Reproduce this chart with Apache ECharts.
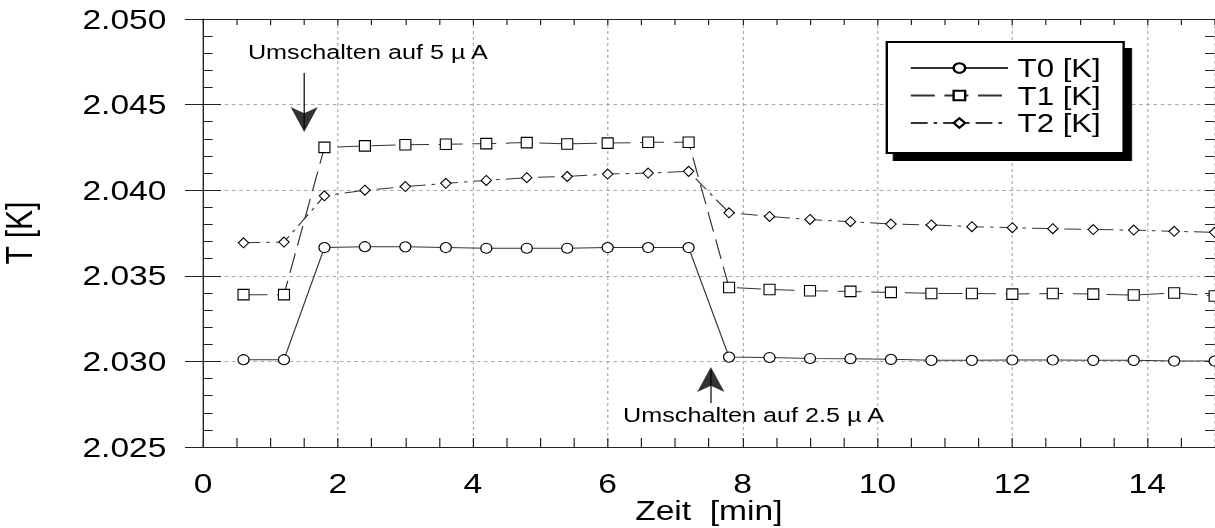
<!DOCTYPE html>
<html>
<head>
<meta charset="utf-8">
<script src="https://cdn.jsdelivr.net/npm/echarts@6/dist/echarts.min.js"></script>
<style>
  html, body { margin: 0; padding: 0; background: #fff; overflow: hidden; }
  #wrap { width: 1215px; height: 528px; overflow: hidden; }
  /* the plot is laid out on a narrower canvas and widened, giving the wide lettering of the original plotter */
  #chart { width: 1012.5px; height: 528px; transform: scaleX(1.2); transform-origin: 0 0; }
</style>
</head>
<body>
<div id="wrap"><div id="chart"></div></div>
<script>
// Zeit [min] of each reading
const zeit = [0.6, 1.2, 1.8, 2.4, 3.0, 3.6, 4.2, 4.8, 5.4, 6.0, 6.6, 7.2, 7.8,
              8.4, 9.0, 9.6, 10.2, 10.8, 11.4, 12.0, 12.6, 13.2, 13.8, 14.4, 15.0];

// Temperatures [K] of the three sensors
const t0 = [2.0301, 2.0301, 2.03665, 2.0367, 2.03669, 2.03665, 2.03661, 2.03661, 2.03661,
            2.03665, 2.03665, 2.03665, 2.03025, 2.03023, 2.03017, 2.03016, 2.03012, 2.03006,
            2.03006, 2.03008, 2.03008, 2.03006, 2.03006, 2.03002, 2.03002];
const t1 = [2.0339, 2.0339, 2.0425, 2.04259, 2.04266, 2.04268, 2.04272, 2.04278, 2.0427,
            2.04275, 2.0428, 2.0428, 2.03432, 2.0342, 2.03413, 2.03409, 2.03403, 2.03397,
            2.03397, 2.03393, 2.03397, 2.03393, 2.03388, 2.034, 2.03382];
const t2 = [2.03693, 2.03697, 2.03967, 2.0400, 2.04021, 2.0404, 2.04057, 2.04073, 2.0408,
            2.04094, 2.041, 2.0411, 2.03868, 2.03847, 2.03829, 2.03816, 2.03802, 2.03797,
            2.03787, 2.03781, 2.03775, 2.0377, 2.03767, 2.0376, 2.03754];

const seriesNames = ['T0 [K]', 'T1 [K]', 'T2 [K]'];
const xLabelValues = [0, 2, 4, 6, 8, 10, 12, 14];
const noteHigh = 'Umschalten auf 5 \u00b5 A';
const noteLow = 'Umschalten auf 2.5 \u00b5 A';

const FONT = '"Liberation Sans", Arial, Helvetica, sans-serif';
const pairs = (ys) => zeit.map((x, i) => [x, ys[i]]);

const gridBox = { left: 169.2, right: 0.8, top: 19, bottom: 81, containLabel: false, outerBoundsMode: 'none' };
const gridLine = { show: true, lineStyle: { color: '#aaa', width: 1, type: [3, 3] } };
const frameLine = { show: true, lineStyle: { color: '#222', width: 1 } };
const tickLine = { color: '#222', width: 1 };
const marker = { color: '#fff', borderColor: '#000', borderWidth: 1 };
const Y_MIN = 2.025, Y_MAX = 2.050;

// thin inward ticks every 0.001 K on both sides
const minorY = (pos) => ({
  type: 'value', gridIndex: 1, position: pos, min: Y_MIN, max: Y_MAX, interval: 0.001,
  axisLine: { show: false },
  axisTick: { show: true, inside: true, length: 8, lineStyle: tickLine },
  axisLabel: { show: false }, splitLine: { show: false }
});

const chart = echarts.init(document.getElementById('chart'), null, { renderer: 'svg' });

chart.setOption({
  animation: false,
  backgroundColor: '#fff',
  textStyle: { fontFamily: FONT },
  grid: [Object.assign({}, gridBox), Object.assign({}, gridBox)],
  xAxis: [
    { // bottom axis: labels and half-minute ticks
      type: 'value', gridIndex: 0, position: 'bottom', min: 0, max: 15, interval: 0.5,
      axisLine: frameLine,
      axisTick: { show: true, inside: true, length: 9, lineStyle: tickLine },
      axisLabel: {
        show: true, margin: 24, fontSize: 28, lineHeight: 24, color: '#000', fontFamily: FONT,
        showMaxLabel: false,
        formatter: (v) => (xLabelValues.indexOf(v) >= 0 ? String(v) : '')
      },
      splitLine: { show: false },
      name: 'Zeit\u00a0\u00a0[min]', nameLocation: 'middle', nameGap: 50, nameMoveOverlap: false,
      nameTextStyle: { fontSize: 28, lineHeight: 26, color: '#000', fontFamily: FONT }
    },
    { // top frame with inward ticks
      type: 'value', gridIndex: 0, position: 'top', min: 0, max: 15, interval: 0.5,
      axisLine: frameLine,
      axisTick: { show: true, inside: true, length: 6, lineStyle: tickLine },
      axisLabel: { show: false },
      splitLine: { show: false }
    },
    { // vertical grid lines every 2 min
      type: 'value', gridIndex: 1, position: 'bottom', min: 0, max: 15, interval: 2,
      axisLine: { show: false }, axisTick: { show: false }, axisLabel: { show: false },
      splitLine: gridLine
    }
  ],
  yAxis: [
    {
      type: 'value', gridIndex: 0, position: 'left', min: Y_MIN, max: Y_MAX, interval: 0.005,
      axisLine: frameLine,
      axisTick: { show: true, inside: true, length: 15, lineStyle: tickLine },
      axisLabel: {
        show: true, margin: 30.5, fontSize: 28, color: '#000', fontFamily: FONT,
        formatter: (v) => v.toFixed(3)
      },
      splitLine: gridLine,
      name: 'T [K]', nameLocation: 'middle', nameGap: 138, nameRotate: 90, nameMoveOverlap: false,
      nameTextStyle: { fontSize: 30, color: '#000', fontFamily: FONT }
    },
    {
      type: 'value', gridIndex: 0, position: 'right', min: Y_MIN, max: Y_MAX, interval: 0.005,
      axisLine: frameLine,
      axisTick: { show: true, inside: true, length: 15, lineStyle: tickLine },
      axisLabel: { show: false },
      splitLine: { show: false }
    },
    minorY('left'),
    minorY('right')
  ],
  legend: {
    data: seriesNames,
    orient: 'vertical',
    left: 739, top: 42,
    padding: [13, 19, 17, 19],
    itemWidth: 81, itemHeight: 12, itemGap: 1.5,
    selectedMode: false,
    backgroundColor: '#fff',
    borderColor: '#000', borderWidth: 2,
    shadowColor: '#000', shadowBlur: 0, shadowOffsetX: 6, shadowOffsetY: 7,
    textStyle: { fontSize: 26, lineHeight: 26, color: '#000', fontFamily: FONT, padding: [0, 0, 0, 3] }
  },
  series: [
    {
      name: seriesNames[0], type: 'line', xAxisIndex: 0, yAxisIndex: 0,
      data: pairs(t0),
      symbol: 'circle', symbolSize: [9.2, 10], showAllSymbol: true,
      itemStyle: marker,
      lineStyle: { color: '#333', width: 1, type: 'solid' },
      emphasis: { disabled: true }, silent: true,
      // arrow shafts of the two switching notes
      markLine: {
        silent: true, animation: false,
        symbol: ['none', 'none'],
        label: { show: false },
        lineStyle: { color: '#000', width: 1, type: 'solid' },
        emphasis: { disabled: true },
        data: [
          [{ coord: [1.5, 2.04685] }, { coord: [1.5, 2.0436] }],
          [{ coord: [7.53, 2.02757] }, { coord: [7.53, 2.0295] }]
        ]
      }
    },
    {
      name: seriesNames[1], type: 'line', xAxisIndex: 0, yAxisIndex: 0,
      data: pairs(t1),
      symbol: 'rect', symbolSize: [9.2, 10.5], showAllSymbol: true,
      itemStyle: marker,
      lineStyle: { color: '#333', width: 1, type: [20, 8] },
      emphasis: { disabled: true }, silent: true
    },
    {
      name: seriesNames[2], type: 'line', xAxisIndex: 0, yAxisIndex: 0,
      data: pairs(t2),
      symbol: 'diamond', symbolSize: [8.6, 10], showAllSymbol: true,
      itemStyle: marker,
      lineStyle: { color: '#333', width: 1, type: [14, 5, 3, 5] },
      emphasis: { disabled: true }, silent: true
    },
    { // arrow heads of the switching notes, tips at the given points
      type: 'scatter', xAxisIndex: 0, yAxisIndex: 0,
      symbol: 'arrow', symbolSize: [17, 25],
      itemStyle: { color: '#000' },
      emphasis: { disabled: true }, silent: true, z: 5,
      data: [
        { value: [1.5, 2.0434], symbolRotate: 180 },
        { value: [7.53, 2.02967], symbolRotate: 0 }
      ]
    }
  ]
});

// switching notes, placed through the value axes
const notes = [
  { text: noteHigh, at: [2.444, 2.0481] },
  { text: noteLow, at: [8.163, 2.02687] }
];
chart.setOption({
  graphic: notes.map((n) => {
    const p = chart.convertToPixel({ gridIndex: 0 }, n.at);
    return {
      type: 'text', silent: true, z: 10,
      x: p[0], y: p[1],
      style: {
        text: n.text, fill: '#000', fontSize: 21, fontFamily: FONT,
        align: 'center', verticalAlign: 'middle'
      }
    };
  })
});
</script>
</body>
</html>
